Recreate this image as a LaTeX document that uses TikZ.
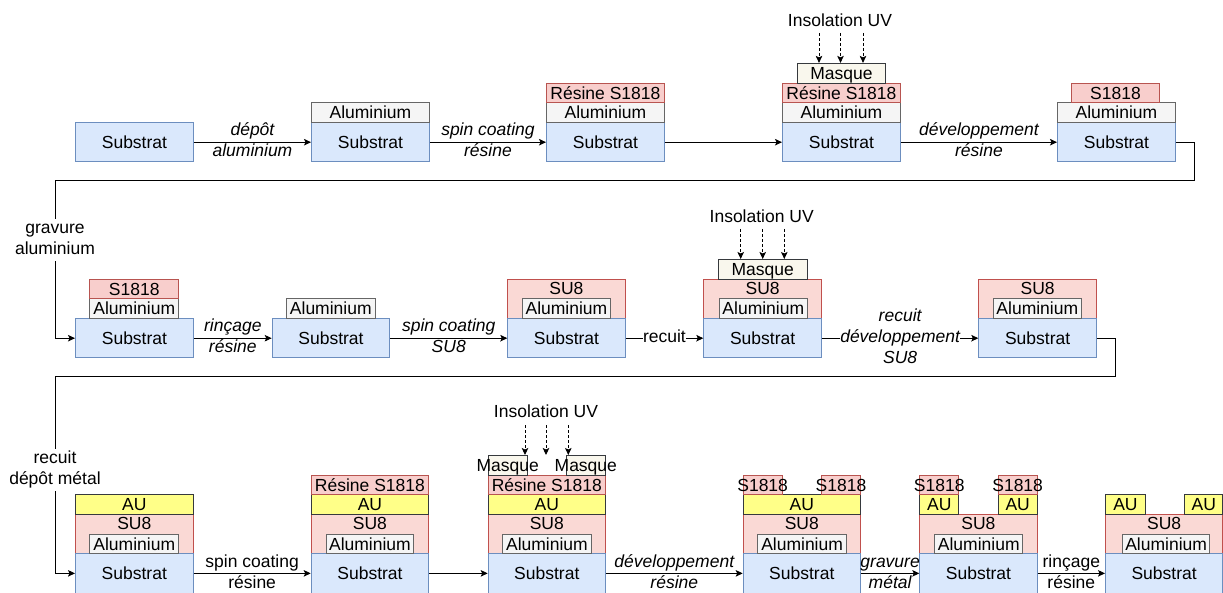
\documentclass[tikz,border=0pt]{standalone}
\usepackage{fontspec}
\setmainfont{Liberation Sans}
\usetikzlibrary{arrows.meta}
\definecolor{subfill}{HTML}{DAE8FC}\definecolor{subdraw}{HTML}{6C8EBF}
\definecolor{alufill}{HTML}{F5F5F5}\definecolor{aludraw}{HTML}{666666}
\definecolor{resfill}{HTML}{F8CECC}\definecolor{resdraw}{HTML}{B85450}
\definecolor{sufill}{HTML}{FAD9D5}\definecolor{sudraw}{HTML}{C0504D}
\definecolor{aufill}{HTML}{FFFF88}\definecolor{audraw}{HTML}{36393D}
\definecolor{mskfill}{HTML}{F9F7ED}\definecolor{mskdraw}{HTML}{36393D}
\newcommand{\fs}{\fontsize{17.5}{21}\selectfont}
\newcommand{\Lay}[7]{\node[#2, minimum width=#5pt, minimum height=#6pt] (#1) at (#3,#4) {#7};}
\tikzset{
 lay/.style={draw, line width=0.9pt, inner sep=0pt, anchor=north west, text height=12.5pt, text depth=0pt, font=\fs},
 sub/.style={lay, fill=subfill, draw=subdraw},
 alu/.style={lay, fill=alufill, draw=aludraw},
 res/.style={lay, fill=resfill, draw=resdraw},
 su/.style={lay, fill=sufill, draw=sudraw, label={[txt, anchor=north, yshift=-3.2pt]north:SU8}},
 au/.style={lay, fill=aufill, draw=audraw},
 msk/.style={lay, fill=mskfill, draw=mskdraw},
 txt/.style={font=\fs, inner sep=0pt, text height=12.5pt, text depth=0pt},
 flow/.style={draw=black, line width=0.9pt, -{Stealth[length=7pt,width=6.5pt,inset=1.5pt]}},
 uv/.style={flow, dash pattern=on 3pt off 2pt},
 lbl/.style={font=\fs, align=center, inner sep=0pt},
 ilbl/.style={font=\fs\itshape, align=center, inner sep=0pt},
 wbg/.style={fill=white},
}
\begin{document}
\begin{tikzpicture}[x=1pt,y=-1pt]
\useasboundingbox (0,0) rectangle (1223,593);
% ---------------- Row 1 ----------------
\Lay{A1}{sub}{75}{122}{118}{39.5}{Substrat}
\Lay{A2}{sub}{311}{122}{118}{39.5}{Substrat}
\Lay{A2a}{alu}{311}{102.3}{118}{19.7}{Aluminium}
\Lay{A3}{sub}{546}{122}{118}{39.5}{Substrat}
\Lay{A3a}{alu}{546}{102.3}{118}{19.7}{Aluminium}
\Lay{A3r}{res}{546}{82.6}{118}{19.7}{Résine S1818}
\Lay{A4}{sub}{782}{122}{118}{39.5}{Substrat}
\Lay{A4a}{alu}{782}{102.3}{118}{19.7}{Aluminium}
\Lay{A4r}{res}{782}{82.6}{118}{19.7}{Résine S1818}
\Lay{A4m}{msk}{797}{62.9}{88}{19.7}{Masque}
\Lay{A5}{sub}{1057}{122}{118}{39.5}{Substrat}
\Lay{A5a}{alu}{1057}{102.3}{118}{19.7}{Aluminium}
\Lay{A5r}{res}{1071}{82.6}{88}{19.7}{S1818}
\node[txt] (uvA) at (840,20) {Insolation UV};
\coordinate (uvA1) at (819,33);
\coordinate (uvA2) at (840.5,33);
\coordinate (uvA3) at (863,33);
\foreach \c in {uvA1,uvA2,uvA3} \draw[uv] (\c) -- (\c |- A4m.north);
\draw[flow] (A1.east) -- (A2.west) node[midway, ilbl] {\strut dépôt\\\strut aluminium};
\draw[flow] (A2.east) -- (A3.west) node[midway, ilbl] {\strut spin coating\\\strut résine};
\draw[flow] (A3.east) -- (A4.west);
\draw[flow] (A4.east) -- (A5.west) node[midway, ilbl] {\strut développement\\\strut résine};
% loop 1
\coordinate (R1) at (1194,180.5);
\coordinate (L1) at (55,180.5);
% ---------------- Row 2 ----------------
\Lay{B1}{sub}{75}{318}{118}{39.5}{Substrat}
\Lay{B1a}{alu}{89.3}{298.3}{89}{19.7}{Aluminium}
\Lay{B1r}{res}{89.3}{278.6}{89}{19.7}{S1818}
\Lay{B2}{sub}{271.7}{318}{117.6}{39.5}{Substrat}
\Lay{B2a}{alu}{286}{298.3}{88.7}{19.7}{Aluminium}
\Lay{B3s}{su}{507.3}{278.6}{117.4}{39.4}{}
\Lay{B3}{sub}{507.3}{318}{117.4}{39.5}{Substrat}
\Lay{B3a}{alu}{521.7}{298.3}{88.6}{19.7}{Aluminium}
\Lay{B4s}{su}{703.3}{278.6}{117.7}{39.4}{}
\Lay{B4}{sub}{703.3}{318}{117.7}{39.5}{Substrat}
\Lay{B4a}{alu}{719}{298.3}{87.7}{19.7}{Aluminium}
\Lay{B4m}{msk}{717.7}{259}{89}{19.6}{Masque}
\Lay{B5s}{su}{978.3}{278.6}{117.7}{39.4}{}
\Lay{B5}{sub}{978.3}{318}{117.7}{39.5}{Substrat}
\Lay{B5a}{alu}{992.7}{298.3}{88.3}{19.7}{Aluminium}
\node[txt] (uvB) at (761.7,216) {Insolation UV};
\coordinate (uvB1) at (740.7,229);
\coordinate (uvB2) at (762.7,229);
\coordinate (uvB3) at (784.3,229);
\foreach \c in {uvB1,uvB2,uvB3} \draw[uv] (\c) -- (\c |- B4m.north);
\draw[flow] (A5.east) -- (A5.east -| R1) |- (L1) |- (B1.west);
\node[lbl, wbg] (g1) at (55,240) {\strut gravure\\\strut aluminium};
\draw[flow] (B1.east) -- (B2.west) node[midway, ilbl] {\strut rinçage\\\strut résine};
\draw[flow] (B2.east) -- (B3.west) node[midway, ilbl] {\strut spin coating\\\strut SU8};
\draw[flow] (B3.east) -- (B4.west) node[midway, lbl, wbg] {\strut recuit};
\draw[flow] (B4.east) -- (B5.west) node[midway, ilbl, wbg] {\strut recuit\\\strut développement\\\strut SU8};
\coordinate (R2) at (1115,376.7);
\coordinate (L2) at (55,376.7);
% ---------------- Row 3 ----------------
\Lay{C1s}{su}{75}{514}{117.7}{39.3}{}
\Lay{C1}{sub}{75}{553.3}{117.7}{39.2}{Substrat}
\Lay{C1a}{alu}{89.3}{533.6}{89}{19.7}{Aluminium}
\Lay{C1u}{au}{75}{494.3}{117.7}{19.7}{AU}
\Lay{C2s}{su}{310.7}{514}{117.6}{39.3}{}
\Lay{C2}{sub}{310.7}{553.3}{117.6}{39.2}{Substrat}
\Lay{C2a}{alu}{325.7}{533.6}{87.6}{19.7}{Aluminium}
\Lay{C2u}{au}{310.7}{494.3}{117.6}{19.7}{AU}
\Lay{C2r}{res}{310.7}{474.6}{117.6}{19.7}{Résine S1818}
\Lay{C3s}{su}{487.7}{514}{117.3}{39.3}{}
\Lay{C3}{sub}{487.7}{553.3}{117.3}{39.2}{Substrat}
\Lay{C3a}{alu}{502.3}{533.6}{88.4}{19.7}{Aluminium}
\Lay{C3u}{au}{487.7}{494.3}{117.3}{19.7}{AU}
\Lay{C3r}{res}{487.7}{474.6}{117.3}{19.7}{Résine S1818}
\Lay{C3ml}{msk}{487.7}{455}{39}{19.6}{}
\Lay{C3mr}{msk}{565.7}{455}{39.3}{19.6}{}
\node[txt] (C3mlt) at (C3ml.center) {Masque};
\node[txt] (C3mrt) at (C3mr.center) {Masque};
\node[txt] (uvC) at (546,411.7) {Insolation UV};
\coordinate (uvC1) at (525,425);
\coordinate (uvC2) at (546,425);
\coordinate (uvC3) at (568.3,425);
\foreach \c in {uvC1,uvC2,uvC3} \draw[uv] (\c) -- (\c |- C3ml.north);
\Lay{C4s}{su}{742.7}{514}{117.3}{39.3}{}
\Lay{C4}{sub}{742.7}{553.3}{117.3}{39.2}{Substrat}
\Lay{C4a}{alu}{757.3}{533.6}{88.7}{19.7}{Aluminium}
\Lay{C4u}{au}{742.7}{494.3}{117.3}{19.7}{AU}
\Lay{C4rl}{res}{742.7}{474.6}{39}{19.7}{}
\Lay{C4rr}{res}{821}{474.6}{39}{19.7}{}
\node[txt] (C4rlt) at (C4rl.center) {S1818};
\node[txt] (C4rrt) at (C4rr.center) {S1818};
\Lay{C5s}{su}{919.3}{514}{117.4}{39.3}{}
\Lay{C5}{sub}{919.3}{553.3}{117.4}{39.2}{Substrat}
\Lay{C5a}{alu}{934.3}{533.6}{88}{19.7}{Aluminium}
\Lay{C5ul}{au}{919.3}{494.3}{39}{19.7}{AU}
\Lay{C5ur}{au}{997.7}{494.3}{39}{19.7}{AU}
\Lay{C5rl}{res}{919.3}{474.6}{39}{19.7}{}
\Lay{C5rr}{res}{997.7}{474.6}{39}{19.7}{}
\node[txt] (C5rlt) at (C5rl.center) {S1818};
\node[txt] (C5rrt) at (C5rr.center) {S1818};
\Lay{C6s}{su}{1105}{514}{117.3}{39.3}{}
\Lay{C6}{sub}{1105}{553.3}{117.3}{39.2}{Substrat}
\Lay{C6a}{alu}{1122.3}{533.6}{86.7}{19.7}{Aluminium}
\Lay{C6ul}{au}{1105}{494.3}{40}{19.7}{AU}
\Lay{C6ur}{au}{1184.3}{494.3}{38}{19.7}{AU}
\draw[flow] (B5.east) -- (B5.east -| R2) |- (L2) |- (C1.west);
\node[lbl, wbg] (g2) at (55,470) {\strut recuit\\\strut dépôt métal};
\draw[flow] (C1.east) -- (C2.west) node[midway, lbl] {\strut spin coating\\\strut résine};
\draw[flow] (C2.east) -- (C3.west);
\draw[flow] (C3.east) -- (C4.west) node[midway, ilbl] {\strut développement\\\strut résine};
\draw[flow] (C4.east) -- (C5.west) node[midway, ilbl] {\strut gravure\\\strut métal};
\draw[flow] (C5.east) -- (C6.west) node[midway, lbl] {\strut rinçage\\\strut résine};
\end{tikzpicture}
\end{document}
